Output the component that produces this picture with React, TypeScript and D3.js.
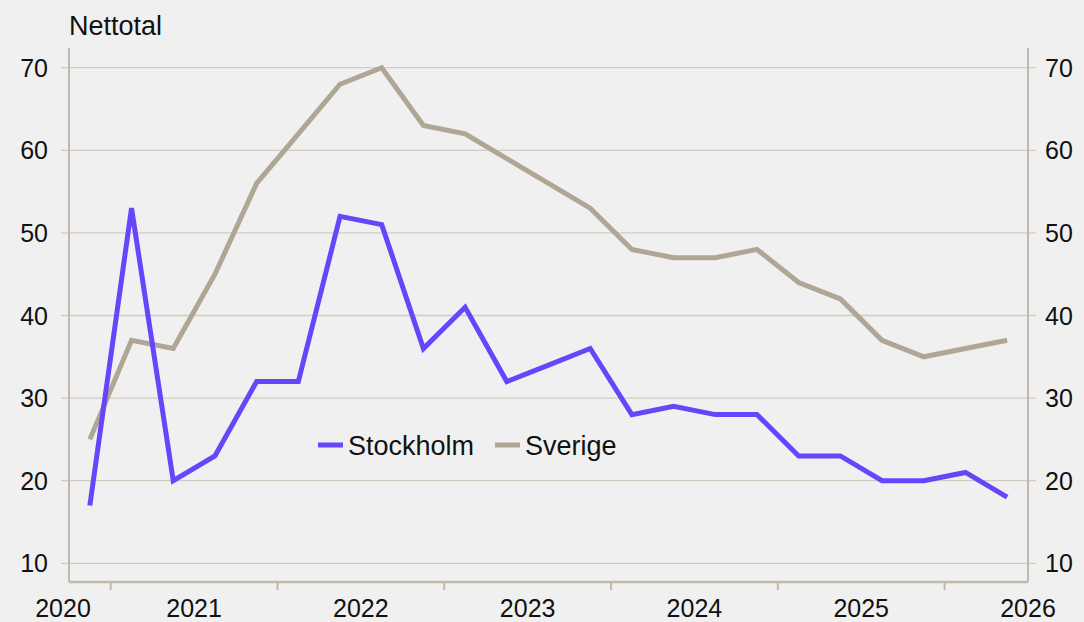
import React from 'react';
import * as d3 from 'd3';

// quarterly observations, 2020 Q4 .. 2026 Q2
const quarters = [
  '2020Q4',
  '2021Q1', '2021Q2', '2021Q3', '2021Q4',
  '2022Q1', '2022Q2', '2022Q3', '2022Q4',
  '2023Q1', '2023Q2', '2023Q3', '2023Q4',
  '2024Q1', '2024Q2', '2024Q3', '2024Q4',
  '2025Q1', '2025Q2', '2025Q3', '2025Q4',
  '2026Q1', '2026Q2',
];
const stockholm = [17, 53, 20, 23, 32, 32, 52, 51, 36, 41, 32, 34, 36, 28, 29, 28, 28, 23, 23, 20, 20, 21, 18];
const sverige = [25, 37, 36, 45, 56, 62, 68, 70, 63, 62, 59, 56, 53, 48, 47, 47, 48, 44, 42, 37, 35, 36, 37];
const yTicks = [10, 20, 30, 40, 50, 60, 70];
const years = [2020, 2021, 2022, 2023, 2024, 2025, 2026];

const W = 1084;
const H = 622;
const left = 69;
const right = 1028;
const top = 48;
const bottom = 582;
const font = '"Liberation Sans", Arial, Helvetica, sans-serif';
const fs = 25;
const fsBig = 27;
const gridColor = '#d3cbc0';
const axisColor = '#c2b9ac';
const purple = '#6645fb';
const beige = '#b0a695';

// quarter string -> fractional year at quarter middle
const qTime = (q: string) => +q.slice(0, 4) + (+q.slice(5) - 1) / 4 + 0.125;

export default function App() {
  const x = d3.scaleLinear().domain([2020.75, 2026.5]).range([left, right]);
  const y = d3.scaleLinear().domain([10, 70]).range([563.3, 67.7]);

  const line = d3
    .line<number>()
    .x((_, i) => x(qTime(quarters[i])))
    .y((d) => y(d));

  const legend = [
    { name: 'Stockholm', color: purple, x0: 318 },
    { name: 'Sverige', color: beige, x0: 495 },
  ];

  return (
    <svg
      width={W}
      height={H}
      style={{ position: 'absolute', left: 0, top: 0, background: '#f0f0f0' }}
      fontFamily={font}
    >
      <rect width={W} height={H} fill="#f0f0f0" />

      {/* grid */}
      {yTicks.map((t) => (
        <line key={'g' + t} x1={left - 8} x2={right + 8} y1={y(t)} y2={y(t)} stroke={gridColor} strokeWidth={1.3} />
      ))}

      {/* axes */}
      <line x1={left} x2={left} y1={top} y2={bottom} stroke={axisColor} strokeWidth={2} />
      <line x1={right} x2={right} y1={top} y2={bottom} stroke={axisColor} strokeWidth={2} />
      <line x1={left} x2={right} y1={bottom} y2={bottom} stroke={axisColor} strokeWidth={2.5} />

      {years.slice(1).map((yr) => (
        <line key={'t' + yr} x1={x(yr)} x2={x(yr)} y1={bottom} y2={bottom + 8} stroke={axisColor} strokeWidth={2} />
      ))}

      {yTicks.map((t) => (
        <g key={'l' + t}>
          <text x={48} y={y(t)} dy="0.36em" textAnchor="end" fontSize={fs} fill="#111">
            {t}
          </text>
          <text x={1045} y={y(t)} dy="0.36em" textAnchor="start" fontSize={fs} fill="#111">
            {t}
          </text>
        </g>
      ))}

      {years.map((yr) => (
        <text
          key={'y' + yr}
          x={Math.max(x(yr + 0.5), 63)}
          y={617}
          textAnchor="middle"
          fontSize={fs}
          fill="#111"
        >
          {yr}
        </text>
      ))}

      <text x={69} y={35} fontSize={fsBig} fill="#111">
        Nettotal
      </text>

      {/* series */}
      <path d={line(sverige) || ''} fill="none" stroke={beige} strokeWidth={5} strokeLinejoin="miter" />
      <path d={line(stockholm) || ''} fill="none" stroke={purple} strokeWidth={5} strokeLinejoin="miter" />

      {/* legend */}
      {legend.map((l) => (
        <g key={l.name}>
          <line x1={l.x0} x2={l.x0 + 25} y1={445} y2={445} stroke={l.color} strokeWidth={5} />
          <text x={l.x0 + 30} y={445} dy="0.36em" fontSize={fsBig} fill="#111">
            {l.name}
          </text>
        </g>
      ))}
    </svg>
  );
}
